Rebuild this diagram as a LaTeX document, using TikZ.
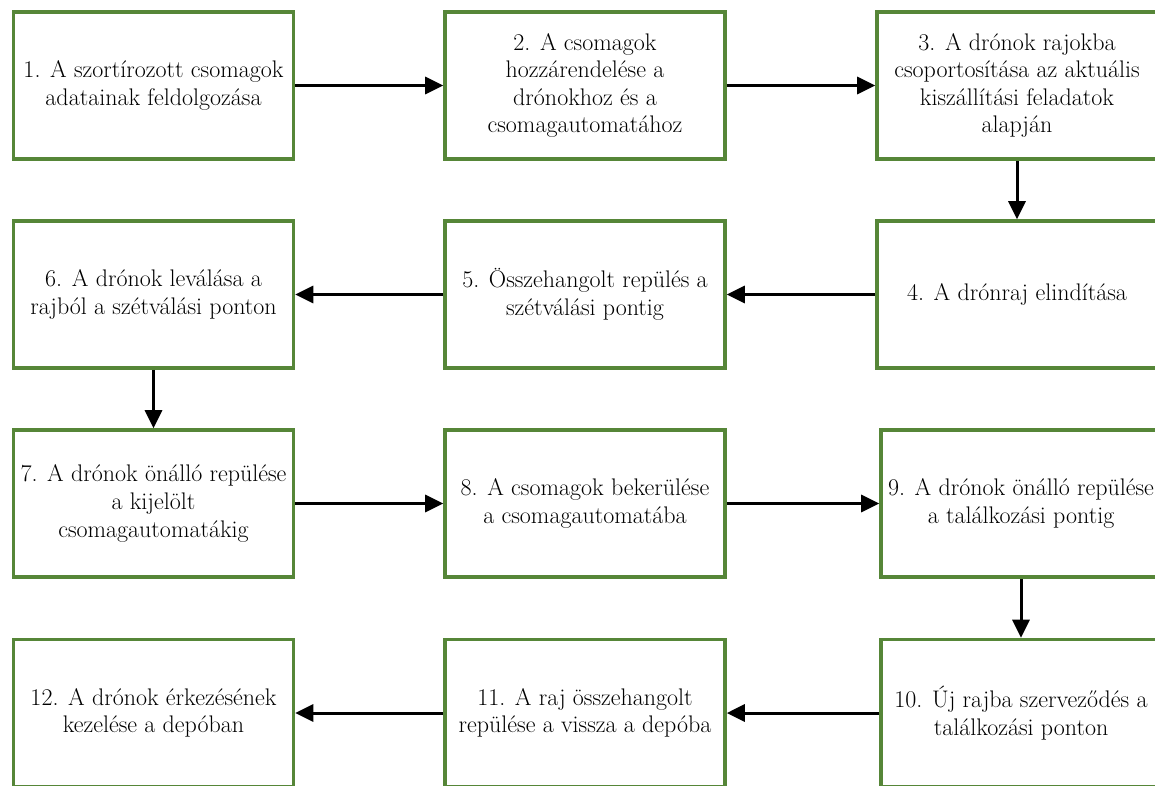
\documentclass[tikz,border=0pt]{standalone}
\usetikzlibrary{arrows.meta}
\definecolor{boxgreen}{RGB}{86,134,56}
\tikzset{
  stepbox/.style={draw=boxgreen, line width=3.6pt, fill=white, rectangle,
    minimum width=280pt, minimum height=147pt, inner sep=2pt,
    align=center, text=black,
    font=\fontsize{24}{27.6}\selectfont},
  flow/.style={draw=black, line width=3pt,
    -{Triangle[length=18pt,width=17pt]}}
}
\begin{document}
\begin{tikzpicture}[x=1pt,y=-1pt]
  \clip (0,0) rectangle (1155,785);
  \fill[white] (0,0) rectangle (1155,785);

  % row 1
  \node[stepbox] (s1) at (153.5,85.5) {1. A szortírozott csomagok\\adatainak feldolgozása};
  \node[stepbox] (s2) at (585,85.5) {2. A csomagok\\hozzárendelése a\\drónokhoz és a\\csomagautomatához};
  \node[stepbox] (s3) at (1017,85.5) {3. A drónok rajokba\\csoportosítása az aktuális\\kiszállítási feladatok\\alapján};
  % row 2
  \node[stepbox] (s6) at (153.5,294.5) {6. A drónok leválása a\\rajból a szétválási ponton};
  \node[stepbox] (s5) at (585,294.5) {5. Összehangolt repülés a\\szétválási pontig};
  \node[stepbox] (s4) at (1017,294.5) {4. A drónraj elindítása};
  % row 3
  \node[stepbox] (s7) at (153.5,503.5) {7. A drónok önálló repülése\\a kijelölt\\csomagautomatákig};
  \node[stepbox] (s8) at (585,503.5) {8. A csomagok bekerülése\\a csomagautomatába};
  \node[stepbox] (s9) at (1021,503.5) {9. A drónok önálló repülése\\a találkozási pontig};
  % row 4
  \node[stepbox] (s12) at (153.5,713) {12. A drónok érkezésének\\kezelése a depóban};
  \node[stepbox] (s11) at (585,713) {11. A raj összehangolt\\repülése a vissza a depóba};
  \node[stepbox] (s10) at (1021,713) {10. Új rajba szerveződés a\\találkozási ponton};

  % connectors
  \draw[flow] (s1.east) -- (s2.west);
  \draw[flow] (s2.east) -- (s3.west);
  \draw[flow] (s3.south) -- (s4.north);
  \draw[flow] (s4.west) -- (s5.east);
  \draw[flow] (s5.west) -- (s6.east);
  \draw[flow] (s6.south) -- (s7.north);
  \draw[flow] (s7.east) -- (s8.west);
  \draw[flow] (s8.east) -- (s9.west);
  \draw[flow] (s9.south) -- (s10.north);
  \draw[flow] (s10.west) -- (s11.east);
  \draw[flow] (s11.west) -- (s12.east);
\end{tikzpicture}
\end{document}
